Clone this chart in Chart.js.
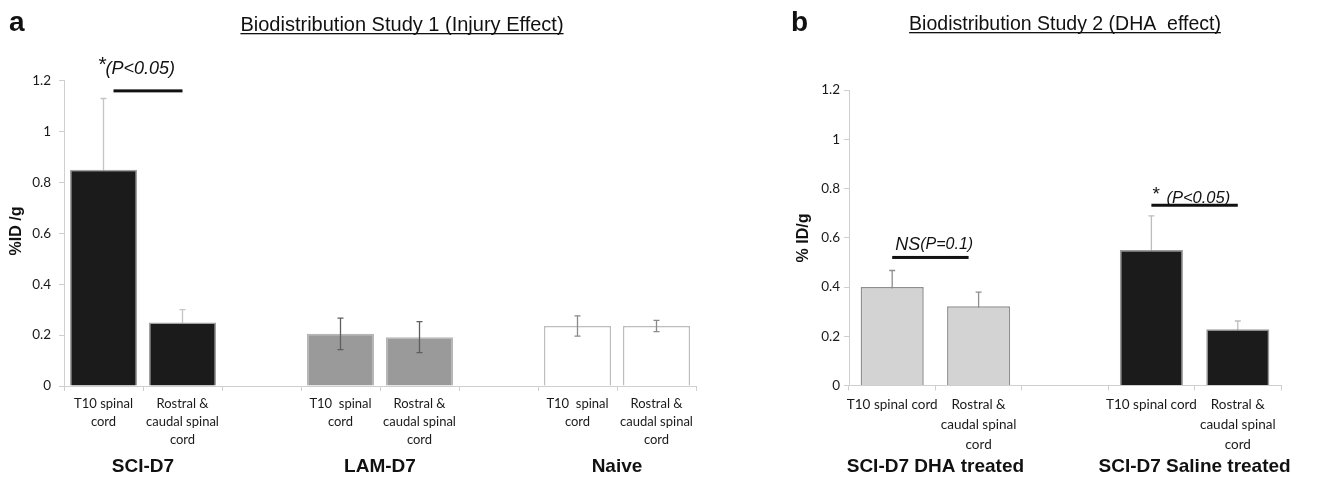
<!DOCTYPE html>
<html lang="en">
<head>
<meta charset="UTF-8">
<title>Biodistribution</title>
<script src="https://cdn.jsdelivr.net/npm/chart.js"></script>
<style>
  body { margin: 0; background: #fff; width: 1338px; height: 478px; overflow: hidden; position: relative; }
  .painel { position: absolute; top: 0; height: 478px; }
  #painelA { left: 0; width: 730px; }
  #painelB { left: 740px; width: 598px; }
</style>
</head>
<body>
<div class="painel" id="painelA"><canvas id="chartA"></canvas></div>
<div class="painel" id="painelB"><canvas id="chartB"></canvas></div>
<script>
// ---- panel a : injury effect
const catsA = [['T10 spinal', 'cord'], ['Rostral &', 'caudal spinal', 'cord'], '',
               ['T10  spinal', 'cord'], ['Rostral &', 'caudal spinal', 'cord'], '',
               ['T10  spinal', 'cord'], ['Rostral &', 'caudal spinal', 'cord']];
const groupsA = ['SCI-D7', 'LAM-D7', 'Naive'];
const sciA = [0.85, 0.25];
const sciErrA = [0.28, 0.05];
const lamA = [0.205, 0.192];
const lamErrA = [0.062, 0.061];
const naiveA = [0.236, 0.236];
const naiveErrA = [0.04, 0.022];

// ---- panel b : DHA effect
const catsB = ['T10 spinal cord', ['Rostral &', 'caudal spinal', 'cord'], '',
               'T10 spinal cord', ['Rostral &', 'caudal spinal', 'cord']];
const groupsB = ['SCI-D7 DHA treated', 'SCI-D7 Saline treated'];
const dhaB = [0.40, 0.322];
const dhaErrB = [0.067, 0.057];
const salineB = [0.55, 0.228];
const salineErrB = [0.139, 0.034];

const yTicks = [0, 0.2, 0.4, 0.6, 0.8, 1, 1.2];
const yTickLabels = ['0', '0.2', '0.4', '0.6', '0.8', '1', '1.2'];

// puts the values of a group at its slots, null elsewhere
function spread(vals, start, len) {
    var out = [];
    for (var i = 0; i < len; i++) out.push(null);
    vals.forEach(function (v, k) { out[start + k] = v; });
    return out;
}

function drawErrors(chart, behind) {
    const ctx = chart.ctx, y = chart.scales.y;
    chart.data.datasets.forEach(function (ds, i) {
        if (!!ds.errBehind !== behind) return;
        chart.getDatasetMeta(i).data.forEach(function (bar, j) {
            const v = ds.data[j], e = ds.err[j];
            if (v == null || e == null) return;
            const top = y.getPixelForValue(v + e), bot = y.getPixelForValue(v - e);
            ctx.save();
            ctx.strokeStyle = ds.errColor;
            ctx.lineWidth = 1.3;
            ctx.beginPath();
            ctx.moveTo(bar.x, top); ctx.lineTo(bar.x, bot);
            ctx.moveTo(bar.x - 3, top); ctx.lineTo(bar.x + 3, top);
            ctx.moveTo(bar.x - 3, bot); ctx.lineTo(bar.x + 3, bot);
            ctx.stroke();
            ctx.restore();
        });
    });
}

const errorBars = {
    id: 'errorBars',
    beforeDatasetsDraw(chart) { drawErrors(chart, true); },
    afterDatasetsDraw(chart) { drawErrors(chart, false); }
};

function underlined(ctx, text, cx, base, font) {
    ctx.font = font;
    ctx.textAlign = 'center';
    ctx.textBaseline = 'alphabetic';
    ctx.fillText(text, cx, base);
    const w = ctx.measureText(text).width;
    ctx.fillRect(cx - w / 2, base + 2, w, 1.3);
}

function yTitle(ctx, text, cx, cy) {
    ctx.save();
    ctx.translate(cx, cy);
    ctx.rotate(-Math.PI / 2);
    ctx.font = 'bold 16px "Liberation Sans", Arial';
    ctx.textAlign = 'center';
    ctx.textBaseline = 'middle';
    ctx.fillText(text, 0, 0);
    ctx.restore();
}

function groupLabels(chart, groups, firsts, cy) {
    const ctx = chart.ctx, x = chart.scales.x;
    ctx.font = 'bold 19px "Liberation Sans", Arial';
    ctx.textAlign = 'center';
    ctx.textBaseline = 'middle';
    groups.forEach(function (g, k) {
        const cx = (x.getPixelForValue(firsts[k]) + x.getPixelForValue(firsts[k] + 1)) / 2;
        ctx.fillText(g, cx, cy);
    });
}

function bracket(ctx, x1, x2, y) {
    ctx.fillRect(x1, y - 1.5, x2 - x1, 3);
}

const decorA = {
    id: 'decorA',
    afterDraw(chart) {
        const ctx = chart.ctx, x = chart.scales.x, y = chart.scales.y;
        ctx.save();
        ctx.fillStyle = '#111';
        ctx.font = 'bold 28px "Liberation Sans", Arial';
        ctx.textAlign = 'left';
        ctx.textBaseline = 'alphabetic';
        ctx.fillText('a', 9, 31);
        underlined(ctx, 'Biodistribution Study 1 (Injury Effect)', 402, 31, '20px "Liberation Sans", Arial');
        yTitle(ctx, '%ID /g', 17, 231);
        groupLabels(chart, groupsA, [0, 3, 6], 467);
        // significance mark
        const x0 = x.getPixelForValue(0), x1 = x.getPixelForValue(1);
        bracket(ctx, x0 + 10, x1, y.getPixelForValue(1.16));
        ctx.textAlign = 'left';
        ctx.font = '21px "Liberation Sans", Arial';
        ctx.fillText('*', x0 - 5, 65);
        ctx.font = 'italic 18px "Liberation Sans", Arial';
        ctx.fillText('(P<0.05)', x0 + 2, 69);
        ctx.restore();
    }
};

const decorB = {
    id: 'decorB',
    afterDraw(chart) {
        const ctx = chart.ctx, x = chart.scales.x, y = chart.scales.y;
        ctx.save();
        ctx.fillStyle = '#111';
        ctx.font = 'bold 28px "Liberation Sans", Arial';
        ctx.textAlign = 'left';
        ctx.textBaseline = 'alphabetic';
        ctx.fillText('b', 51, 31);
        underlined(ctx, 'Biodistribution Study 2 (DHA  effect)', 325, 30, '19.5px "Liberation Sans", Arial');
        yTitle(ctx, '% ID/g', 64, 238);
        groupLabels(chart, groupsB, [0, 3], 467);
        const b0 = x.getPixelForValue(0), b1 = x.getPixelForValue(1);
        const b3 = x.getPixelForValue(3), b4 = x.getPixelForValue(4);
        bracket(ctx, b0, b1 - 10, y.getPixelForValue(0.52));
        bracket(ctx, b3, b4, y.getPixelForValue(0.732));
        ctx.textAlign = 'left';
        ctx.font = 'italic 18px "Liberation Sans", Arial';
        ctx.fillText('NS', b0 + 3, 245);
        const wNs = ctx.measureText('NS').width;
        ctx.font = 'italic 16px "Liberation Sans", Arial';
        ctx.fillText('(P=0.1)', b0 + 3 + wNs, 245);
        ctx.font = '19px "Liberation Sans", Arial';
        ctx.fillText('*', b3 + 1, 195);
        ctx.font = 'italic 16.5px "Liberation Sans", Arial';
        ctx.fillText('(P<0.05)', b3 + 15, 198);
        ctx.restore();
    }
};

function axes(yWidth, xHeight, fontSize, lineH, yPad) {
    return {
        x: {
            stacked: true,
            offset: true,
            grid: { offset: true, drawOnChartArea: false, color: '#cfcfcf', tickLength: 5 },
            border: { color: '#cfcfcf' },
            ticks: { color: '#1a1a1a', padding: 4, maxRotation: 0, autoSkip: false,
                     font: { family: 'Lato', size: fontSize, lineHeight: lineH } },
            afterFit: function (s) { s.height = xHeight; }
        },
        y: {
            stacked: true,
            min: 0, max: 1.2,
            afterBuildTicks: function (s) { s.ticks = yTicks.map(function (v) { return { value: v }; }); },
            grid: { drawOnChartArea: false, color: '#cfcfcf', tickLength: 5 },
            border: { color: '#cfcfcf' },
            ticks: { color: '#1a1a1a', padding: yPad, font: { family: 'Lato', size: 13.5 },
                     callback: function (v, i) { return yTickLabels[i]; } },
            afterFit: function (s) { s.width = yWidth; }
        }
    };
}

new Chart(document.getElementById('chartA'), {
    type: 'bar',
    data: {
        labels: catsA,
        datasets: [
            { label: groupsA[0], data: spread(sciA, 0, 8), err: spread(sciErrA, 0, 8),
              backgroundColor: '#1b1b1b', borderColor: '#a0a0a0', errColor: '#c4c4c4', errBehind: true },
            { label: groupsA[1], data: spread(lamA, 3, 8), err: spread(lamErrA, 3, 8),
              backgroundColor: '#9a9a9a', borderColor: '#b5b5b5', errColor: '#5e5e5e' },
            { label: groupsA[2], data: spread(naiveA, 6, 8), err: spread(naiveErrA, 6, 8),
              backgroundColor: '#ffffff', borderColor: '#bdbdbd', errColor: '#8a8a8a' }
        ]
    },
    options: {
        responsive: true, maintainAspectRatio: false, animation: false,
        datasets: { bar: { borderWidth: 1.5, categoryPercentage: 1, barPercentage: 0.85 } },
        layout: { padding: { top: 80.7, right: 34, bottom: 0, left: 0 } },
        plugins: { legend: { display: false }, tooltip: { enabled: false } },
        scales: axes(64, 92, 13, 1.385, 8)
    },
    plugins: [errorBars, decorA]
});

new Chart(document.getElementById('chartB'), {
    type: 'bar',
    data: {
        labels: catsB,
        datasets: [
            { label: groupsB[0], data: spread(dhaB, 0, 5), err: spread(dhaErrB, 0, 5),
              backgroundColor: '#d2d3d2', borderColor: '#8e8e8e', errColor: '#8e8e8e', errBehind: true },
            { label: groupsB[1], data: spread(salineB, 3, 5), err: spread(salineErrB, 3, 5),
              backgroundColor: '#1b1b1b', borderColor: '#9a9a9a', errColor: '#bdbdbd', errBehind: true }
        ]
    },
    options: {
        responsive: true, maintainAspectRatio: false, animation: false,
        datasets: { bar: { borderWidth: 1.5, categoryPercentage: 1, barPercentage: 0.73 } },
        layout: { padding: { top: 90, right: 57, bottom: 0, left: 0 } },
        plugins: { legend: { display: false }, tooltip: { enabled: false } },
        scales: axes(109, 92.5, 13.5, 1.48, 4)
    },
    plugins: [errorBars, decorB]
});
</script>
</body>
</html>
